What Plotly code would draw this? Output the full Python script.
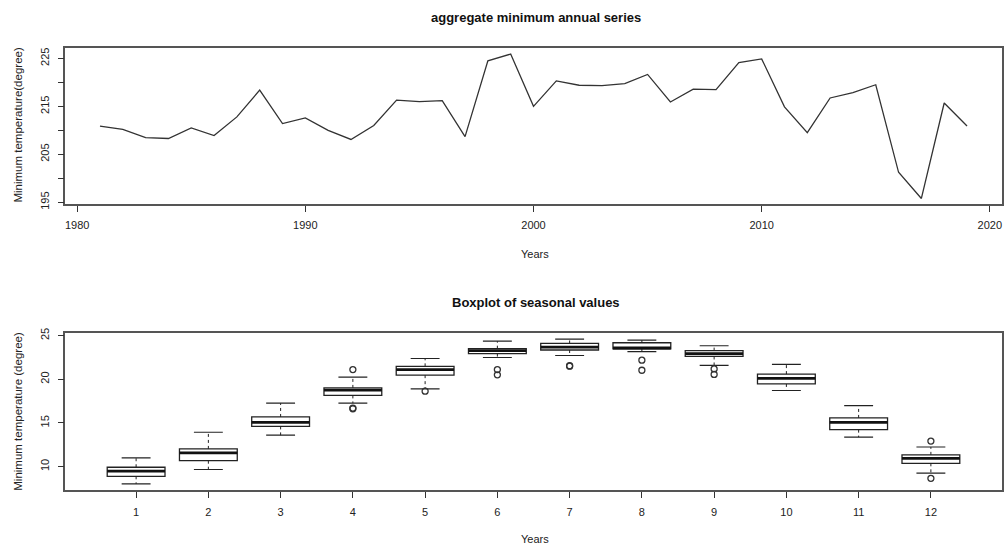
import plotly.graph_objects as go

# ---------------- data ----------------
years = list(range(1981, 2020))
annual_min = [210.9, 210.2, 208.5, 208.3, 210.5, 208.9, 212.8, 218.4, 211.4, 212.6,
              210.0, 208.1, 211.0, 216.3, 216.0, 216.2, 208.7, 224.5, 225.9, 215.0,
              220.3, 219.4, 219.3, 219.75, 221.65, 215.9, 218.6, 218.5, 224.1, 224.9,
              214.9, 209.5, 216.75, 217.85, 219.5, 201.25, 195.8, 215.7, 210.9]

months = [1, 2, 3, 4, 5, 6, 7, 8, 9, 10, 11, 12]
lower_whisker = [8.02, 9.66, 13.59, 17.26, 18.9, 22.49, 22.72, 23.17, 21.6, 18.71, 13.37, 9.25]
q1 = [8.88, 10.67, 14.6, 18.15, 20.47, 22.94, 23.35, 23.47, 22.61, 19.46, 14.23, 10.37]
median = [9.47, 11.57, 15.05, 18.75, 21.11, 23.28, 23.69, 23.58, 22.94, 20.1, 15.05, 10.93]
q3 = [9.92, 12.02, 15.68, 19.01, 21.48, 23.5, 24.1, 24.18, 23.28, 20.59, 15.57, 11.34]
upper_whisker = [11.0, 13.93, 17.26, 20.25, 22.38, 24.36, 24.59, 24.48, 23.84, 21.71, 16.99, 12.24]
outlier_month = [4, 4, 4, 5, 6, 6, 7, 7, 8, 8, 9, 9, 12, 12]
outlier_value = [21.11, 16.62, 16.70, 18.64, 21.11, 20.51, 21.50, 21.55, 22.19, 21.03, 21.18, 20.55, 12.92, 8.65]

top_yticks = [195, 200, 205, 210, 215, 220, 225]
top_ylabels = ["195", "", "205", "", "215", "", "225"]
top_xticks = [1980, 1990, 2000, 2010, 2020]
bot_yticks = [10, 15, 20, 25]

FONT = "Liberation Sans, Arial, Helvetica, sans-serif"
BOX_W = 0.8
CAP_W = 0.4

fig = go.Figure()

# top line
fig.add_trace(go.Scatter(x=years, y=annual_min, mode="lines",
                         line=dict(color="#333333", width=1.3),
                         xaxis="x", yaxis="y", showlegend=False, hoverinfo="x+y"))

# boxes (whiskers drawn separately, dashed)
fig.add_trace(go.Box(x=months, q1=q1, median=median, q3=q3,
                     lowerfence=q1, upperfence=q3, width=BOX_W, whiskerwidth=0,
                     boxpoints=False, fillcolor="white",
                     line=dict(color="#222222", width=1.3),
                     xaxis="x2", yaxis="y2", showlegend=False))

# whiskers (dashed)
wx, wy = [], []
for m, a, b, c, d in zip(months, q3, upper_whisker, q1, lower_whisker):
    wx += [m, m, None, m, m, None]
    wy += [a, b, None, c, d, None]
fig.add_trace(go.Scatter(x=wx, y=wy, mode="lines",
                         line=dict(color="#222222", width=1, dash="3px,3px"),
                         xaxis="x2", yaxis="y2", showlegend=False, hoverinfo="skip"))

# caps
cx, cy = [], []
for m, hi, lo in zip(months, upper_whisker, lower_whisker):
    cx += [m - CAP_W / 2, m + CAP_W / 2, None, m - CAP_W / 2, m + CAP_W / 2, None]
    cy += [hi, hi, None, lo, lo, None]
fig.add_trace(go.Scatter(x=cx, y=cy, mode="lines",
                         line=dict(color="#222222", width=1.2),
                         xaxis="x2", yaxis="y2", showlegend=False, hoverinfo="skip"))

# thick medians
mx, my = [], []
for m, md in zip(months, median):
    mx += [m - BOX_W / 2, m + BOX_W / 2, None]
    my += [md, md, None]
fig.add_trace(go.Scatter(x=mx, y=my, mode="lines",
                         line=dict(color="#111111", width=2.8),
                         xaxis="x2", yaxis="y2", showlegend=False, hoverinfo="skip"))

# outliers
fig.add_trace(go.Scatter(x=outlier_month, y=outlier_value, mode="markers",
                         marker=dict(symbol="circle-open", size=6, color="#333333",
                                     line=dict(width=1.3)),
                         xaxis="x2", yaxis="y2", showlegend=False))

W, H = 1006, 553
xdom = [65.3 / W, 1001.7 / W]

axis_common = dict(showline=True, mirror=True, linecolor="#555555", linewidth=1.5,
                   ticks="outside", ticklen=6, tickcolor="#333333", tickwidth=1,
                   showgrid=False, zeroline=False,
                   tickfont=dict(family=FONT, size=11, color="#222222"))

fig.update_layout(
    width=W, height=H,
    margin=dict(l=0, r=0, t=0, b=0),
    paper_bgcolor="white", plot_bgcolor="white",
    font=dict(family=FONT, color="#222222"),
    xaxis=dict(domain=xdom, anchor="y", range=[1979.48, 2020.52],
               tickvals=top_xticks, ticklabelstandoff=4, **axis_common),
    yaxis=dict(domain=[1 - 203 / H, 1 - 43.7 / H], anchor="x", range=[194.65, 227.2],
               tickvals=top_yticks, ticktext=top_ylabels, tickangle=-90,
               ticklabelstandoff=4, **axis_common),
    xaxis2=dict(domain=xdom, anchor="y2", range=[0.02, 12.98],
                tickvals=months, ticklabelstandoff=5, **axis_common),
    yaxis2=dict(domain=[1 - 494.7 / H, 1 - 335 / H], anchor="x2", range=[7.33, 25.26],
                tickvals=bot_yticks, tickangle=-90, ticklabelstandoff=4, **axis_common),
    annotations=[
        dict(text="<b>aggregate minimum annual series</b>", x=536 / W, y=1 - 13 / H,
             xref="paper", yref="paper", showarrow=False, xanchor="center", yanchor="middle",
             font=dict(family=FONT, size=13, color="#111111")),
        dict(text="<b>Boxplot of seasonal values</b>", x=536 / W, y=1 - 304 / H,
             xref="paper", yref="paper", showarrow=False, xanchor="center", yanchor="middle",
             font=dict(family=FONT, size=13, color="#111111")),
        dict(text="Years", x=535 / W, y=1 - 254 / H,
             xref="paper", yref="paper", showarrow=False, xanchor="center", yanchor="middle",
             font=dict(family=FONT, size=11, color="#222222")),
        dict(text="Years", x=535 / W, y=1 - 545 / H,
             xref="paper", yref="paper", showarrow=False, xanchor="center", yanchor="middle",
             font=dict(family=FONT, size=11, color="#222222")),
        dict(text="Minimum temperature(degree)", x=18 / W, y=1 - 123 / H, textangle=-90,
             xref="paper", yref="paper", showarrow=False, xanchor="center", yanchor="middle",
             font=dict(family=FONT, size=11.5, color="#222222")),
        dict(text="Minimum temperature (degree)", x=18 / W, y=1 - 415 / H, textangle=-90,
             xref="paper", yref="paper", showarrow=False, xanchor="center", yanchor="middle",
             font=dict(family=FONT, size=11.5, color="#222222")),
    ],
)

fig.write_html("out.html")
